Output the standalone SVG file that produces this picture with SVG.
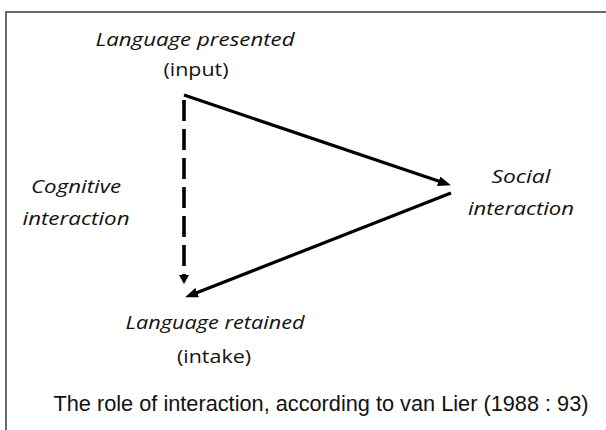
<svg xmlns="http://www.w3.org/2000/svg" width="606" height="430" viewBox="0 0 606 430">
<style>
  text { font-family: "Open Sans", "Liberation Sans", sans-serif; fill: #111; }
  .it { font-style: italic; font-size: 19px; }
  .rg { font-size: 19px; }
  .cap { font-family: "Liberation Sans", Arial, sans-serif; font-size: 22px; }
  .conn { stroke: #000; stroke-width: 3.2; fill: none; }
  .dash { stroke: #000; stroke-width: 3.6; fill: none; stroke-dasharray: 21 8; }
</style>
<defs>
  <marker id="ah" markerUnits="userSpaceOnUse" markerWidth="14" markerHeight="12" refX="6" refY="5" orient="auto">
    <path d="M0,0 L13,5 L0,10 z" fill="#000"/>
  </marker>
  <marker id="ahs" markerUnits="userSpaceOnUse" markerWidth="12" markerHeight="12" refX="4" refY="5" orient="auto">
    <path d="M0,0 L9,5 L0,10 z" fill="#000"/>
  </marker>
</defs>
<rect x="6" y="12" width="620" height="440" fill="#fff" stroke="#444" stroke-width="1.6"/>
<g id="node-presented">
  <text class="it" x="195" y="46" text-anchor="middle" textLength="199" lengthAdjust="spacingAndGlyphs">Language presented</text>
  <text class="rg" x="196" y="76" text-anchor="middle" textLength="65" lengthAdjust="spacingAndGlyphs">(input)</text>
</g>
<g id="node-cognitive">
  <text class="it" x="76" y="193" text-anchor="middle" textLength="90" lengthAdjust="spacingAndGlyphs">Cognitive</text>
  <text class="it" x="76" y="225" text-anchor="middle" textLength="107" lengthAdjust="spacingAndGlyphs">interaction</text>
</g>
<g id="node-social">
  <text class="it" x="521" y="183" text-anchor="middle" textLength="59" lengthAdjust="spacingAndGlyphs">Social</text>
  <text class="it" x="521" y="215" text-anchor="middle" textLength="106" lengthAdjust="spacingAndGlyphs">interaction</text>
</g>
<g id="node-retained">
  <text class="it" x="215" y="329" text-anchor="middle" textLength="179" lengthAdjust="spacingAndGlyphs">Language retained</text>
  <text class="rg" x="214" y="363" text-anchor="middle" textLength="74" lengthAdjust="spacingAndGlyphs">(intake)</text>
</g>
<g id="caption">
  <text class="cap" x="321" y="411" text-anchor="middle" textLength="535" lengthAdjust="spacingAndGlyphs">The role of interaction, according to van Lier (1988 : 93)</text>
</g>
<g id="connectors">
  <line class="conn" x1="184" y1="95" x2="444.3" y2="183.1" marker-end="url(#ah)"/>
  <line class="conn" x1="451" y1="193" x2="191.6" y2="294.8" marker-end="url(#ah)"/>
  <line class="dash" x1="184" y1="100" x2="184" y2="279" marker-end="url(#ahs)"/>
</g>
</svg>
